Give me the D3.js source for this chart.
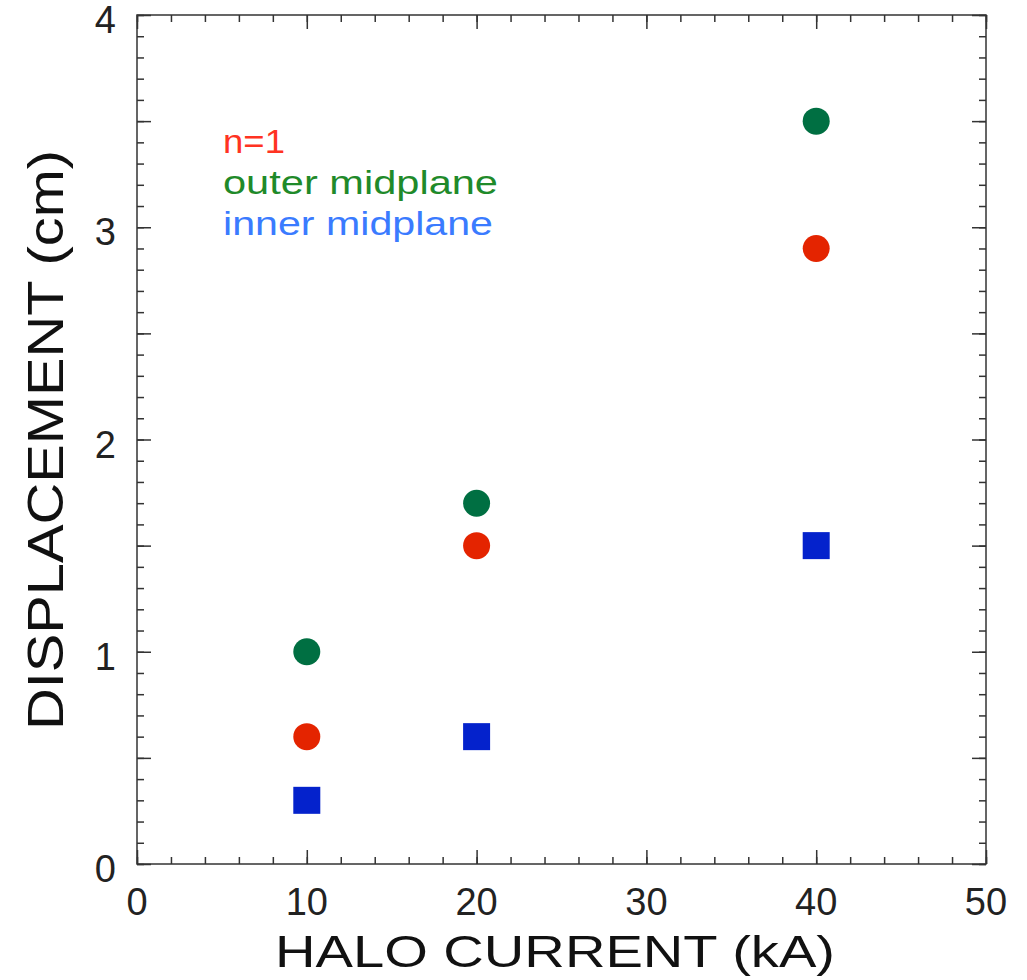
<!DOCTYPE html>
<html lang="en">
    <head>
        <meta charset="UTF-8">
        <script src="https://cdn.jsdelivr.net/npm/d3@7"></script>
        <title>Halo current displacement</title>
        <style>
            body { margin: 0; background: #fff; }
            text { font-family: "Liberation Sans", Arial, sans-serif; }
            .axis path, .axis line { stroke: #333; stroke-width: 1.5px; }
        </style>
    </head>
    <body>
        <svg id="canvas" width="1027" height="980"></svg>

        <script>
            // data
            var haloCurrent  = [10, 20, 40];
            var n1Values     = [0.6, 1.5, 2.9];
            var outerValues  = [1.0, 1.7, 3.5];
            var innerValues  = [0.3, 0.6, 1.5];
            var xTickLabels  = [0, 10, 20, 30, 40, 50];
            var yTickLabels  = [0, 1, 2, 3, 4];
            var legendLabels = ["n=1", "outer midplane", "inner midplane"];

            var svg = d3.select("svg#canvas"),
                pLeft = 137, pRight = 986, pTop = 15, pBottom = 864;

            var x = d3.scaleLinear().domain([0, 50]).range([pLeft, pRight]),
                y = d3.scaleLinear().domain([0, 4]).range([pBottom, pTop]);

            var xMinor = d3.range(0, 50.01, 2),
                yMinor = d3.range(0, 40.01, 1).map(function(d) { return d / 10; }),
                yMajor = d3.range(0, 40.01, 5).map(function(d) { return d / 10; });

            // frame
            svg.append("rect")
                .attr("x", pLeft).attr("y", pTop)
                .attr("width", pRight - pLeft).attr("height", pBottom - pTop)
                .attr("fill", "none").attr("stroke", "#333").attr("stroke-width", 1.5);

            function ticks(axis, tr, vals, size) {
                svg.append("g").attr("class", "axis")
                    .attr("transform", tr)
                    .call(axis.tickValues(vals).tickSize(-size).tickFormat(""))
                    .select(".domain").remove();
            }
            ticks(d3.axisBottom(x), "translate(0," + pBottom + ")", xMinor, 7);
            ticks(d3.axisBottom(x), "translate(0," + pBottom + ")", xTickLabels, 14);
            ticks(d3.axisTop(x), "translate(0," + pTop + ")", xMinor, 7);
            ticks(d3.axisTop(x), "translate(0," + pTop + ")", xTickLabels, 14);
            ticks(d3.axisLeft(y), "translate(" + pLeft + ",0)", yMinor, 7);
            ticks(d3.axisLeft(y), "translate(" + pLeft + ",0)", yMajor, 14);
            ticks(d3.axisRight(y), "translate(" + pRight + ",0)", yMinor, 7);
            ticks(d3.axisRight(y), "translate(" + pRight + ",0)", yMajor, 14);

            // tick labels
            svg.selectAll("text.xl").data(xTickLabels).enter().append("text")
                .attr("class", "xl")
                .attr("x", function(d) { return x(d); })
                .attr("y", pBottom + 51)
                .attr("text-anchor", "middle")
                .attr("font-size", 38).attr("fill", "#222")
                .text(function(d) { return d; });

            svg.selectAll("text.yl").data(yTickLabels).enter().append("text")
                .attr("class", "yl")
                .attr("x", pLeft - 21)
                .attr("y", function(d) { return y(d) + 18; })
                .attr("text-anchor", "end")
                .attr("font-size", 38).attr("fill", "#222")
                .text(function(d) { return d; });

            // axis titles
            svg.append("text")
                .attr("x", 275).attr("y", 967)
                .attr("font-size", 44).attr("fill", "#111")
                .attr("textLength", 560).attr("lengthAdjust", "spacingAndGlyphs")
                .text("HALO CURRENT (kA)");

            svg.append("text")
                .attr("transform", "translate(63,730) rotate(-90)")
                .attr("font-size", 50).attr("fill", "#111")
                .attr("textLength", 580).attr("lengthAdjust", "spacingAndGlyphs")
                .text("DISPLACEMENT (cm)");

            // legend
            var legendColors = ["#ff3322", "#1f8a2a", "#3a7bff"],
                legendWidths = [62, 275, 270];
            svg.selectAll("text.leg").data(legendLabels).enter().append("text")
                .attr("class", "leg")
                .attr("x", 223)
                .attr("y", function(d, i) { return 153 + i * 41; })
                .attr("font-size", 33)
                .attr("fill", function(d, i) { return legendColors[i]; })
                .attr("textLength", function(d, i) { return legendWidths[i]; })
                .attr("lengthAdjust", "spacingAndGlyphs")
                .text(function(d) { return d; });

            // markers
            function circles(vals, color) {
                svg.append("g").selectAll("circle").data(vals).enter().append("circle")
                    .attr("cx", function(d, i) { return x(haloCurrent[i]); })
                    .attr("cy", function(d) { return y(d); })
                    .attr("r", 13.5)
                    .attr("fill", color);
            }
            circles(outerValues, "#006f42");
            circles(n1Values, "#e42400");

            svg.append("g").selectAll("rect").data(innerValues).enter().append("rect")
                .attr("x", function(d, i) { return x(haloCurrent[i]) - 13.5; })
                .attr("y", function(d) { return y(d) - 13.5; })
                .attr("width", 27).attr("height", 27)
                .attr("fill", "#0422cc");
        </script>
    </body>
</html>
